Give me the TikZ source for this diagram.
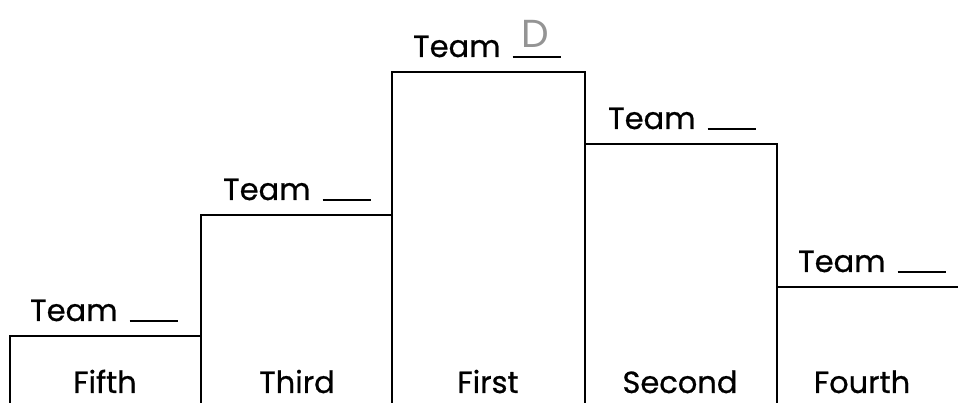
\documentclass[tikz,border=0pt]{standalone}
\usepackage{fontspec}
\setmainfont{Poppins}
\newfontfamily\lblfont{Poppins}[FakeBold=0.7]
\newfontfamily\handfont{Poppins}
\begin{document}
\begin{tikzpicture}[x=1pt,y=1pt,
  bar/.style={draw=black, line width=2.2pt},
  lbl/.style={font=\lblfont\fontsize{30.5}{34}\selectfont, inner sep=0pt},
  team/.style={lbl, anchor=base west},
  place/.style={lbl, anchor=base}]
\useasboundingbox (0,0) rectangle (958,403);
\begin{scope}
\clip (0,0) rectangle (958,403);
\draw[bar] (10,-10) rectangle (201,67);
\draw[bar] (201,-10) rectangle (392,188);
\draw[bar] (392,-10) rectangle (585,331);
\draw[bar] (585,-10) rectangle (777,259);
\draw[bar] (777,-10) rectangle (970,116);
\end{scope}
% place names
\node[place] (p5) at (105,10) {Fifth};
\node[place] (p3) at (297,10) {Third};
\node[place] (p1) at (488,10) {First};
\node[place] (p2) at (680,10) {Second};
\node[place] (p4) at (862,10) {Fourth};
% team labels
\newcommand{\blank}{\hspace{12pt}\rule[-1pt]{48pt}{2pt}}
\node[team] (t5) at (30,82) {Team\blank};
\node[team] (t3) at (223,203) {Team\blank};
\node[team] (t1) at (413,346) {Team\blank};
\node[team] (t2) at (608,274) {Team\blank};
\node[team] (t4) at (798,131) {Team\blank};
\node[inner sep=0pt, anchor=base, text=black!42, font=\handfont\fontsize{39}{40}\selectfont] (d) at (535,355) {D};
\end{tikzpicture}
\end{document}
